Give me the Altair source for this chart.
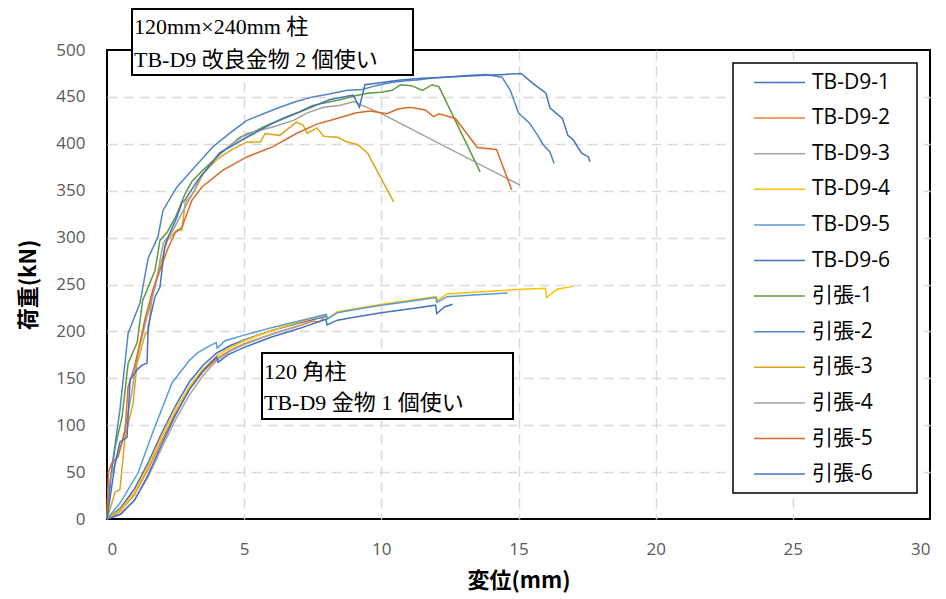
import altair as alt
import pandas as pd

# ---------------- data ----------------
series_names = ["TB-D9-1", "TB-D9-2", "TB-D9-3", "TB-D9-4", "TB-D9-5", "TB-D9-6",
                "引張-1", "引張-2", "引張-3", "引張-4", "引張-5", "引張-6"]
series_colors = ["#4472C4", "#ED7D31", "#A5A5A5", "#FFC000", "#5B9BD5", "#4472C4",
                 "#5E9B3C", "#4F86C6", "#DBA516", "#A0A0A0", "#DC6A28", "#4472C4"]

tb1_x = [0, 0.5, 1.0, 1.5, 2.0, 2.5, 3.0, 3.5, 4.0, 4.5, 5.0, 6.0, 7.0, 8.0]
tb1_y = [0, 12, 32, 60, 92, 121, 146, 164, 177, 185, 191, 201, 209, 216]

tb2_x = [0, 0.5, 1.0, 1.5, 2.0, 2.5, 3.0, 3.5, 4.0, 4.5, 5.0, 6.0, 7.0, 7.5, 7.7, 7.9]
tb2_y = [0, 9, 26, 53, 84, 113, 138, 157, 171, 180, 187, 197, 206, 211, 210, 214]

tb3_x = [0, 0.5, 1.0, 1.5, 2.0, 2.5, 3.0, 3.5, 4.0, 4.5, 5.0, 6.0, 7.0]
tb3_y = [0, 6, 20, 45, 76, 106, 132, 153, 169, 179, 186, 197, 206]

tb4_x = [0, 0.5, 1.0, 1.5, 2.0, 2.5, 3.0, 3.5, 4.0, 4.5, 5.0, 6.0, 7.0, 8.0, 8.05, 8.4,
         9.0, 10.0, 11.0, 12.0, 12.05, 12.4, 13.5, 14.6, 15.98, 16.03, 16.4, 17.0]
tb4_y = [0, 10, 28, 56, 88, 117, 141, 160, 174, 183, 190, 201, 210, 218, 214, 221,
         224, 229, 233, 237, 233, 240, 242, 244, 246, 236, 245, 248]

tb5_x = [0, 0.5, 1.13, 1.7, 2.37, 3.0, 3.3, 3.7, 3.98, 4.02, 4.3, 5.0, 6.0, 7.0, 7.98,
         8.02, 8.4, 9.0, 10.0, 11.0, 11.98, 12.02, 12.4, 13.5, 14.6]
tb5_y = [0, 18, 49, 95, 145, 169, 177, 184, 188, 182, 190, 196, 204, 211, 218,
         213, 220, 223, 228, 232, 236, 231, 237, 239, 241]

tb6_x = [0, 0.5, 1.0, 1.5, 2.0, 2.5, 3.0, 3.5, 4.0, 4.05, 4.4, 5.0, 6.0, 7.0, 7.98,
         8.02, 8.4, 9.0, 10.0, 11.0, 11.98, 12.02, 12.3, 12.6]
tb6_y = [0, 5, 20, 47, 80, 111, 138, 158, 173, 167, 175, 183, 194, 203, 213,
         207, 212, 215, 220, 224, 228, 219, 226, 229]

t1_x = [0, 0.1, 0.3, 0.55, 0.77, 1.1, 1.3, 1.75, 1.93, 2.2, 2.5, 2.85, 3.1, 3.5, 3.9,
        4.4, 4.85, 5.3, 5.7, 6.1, 6.55, 7.0, 7.5, 8.0, 8.5, 9.0, 9.5, 10.0, 10.4, 10.7,
        11.1, 11.5, 11.85, 12.1, 13.6]
t1_y = [0, 38, 77, 109, 166, 188, 233, 265, 297, 306, 322, 347, 360, 372, 383,
        396, 407, 412, 418, 423, 429, 434, 441, 444, 447, 451, 454, 455, 457, 463,
        462, 457, 463, 461, 370]

t2_x = [0, 0.18, 0.47, 0.77, 1.2, 1.5, 1.86, 2.04, 2.55, 3.1, 3.87, 4.5, 5.1, 5.7,
        6.3, 6.9, 7.5, 8.1, 8.75, 9.3, 9.8, 10.3, 10.8, 11.3, 11.8, 12.3, 12.8, 13.3,
        13.8, 14.4, 14.7, 15.0, 15.4, 15.7, 15.9, 16.15, 16.3]
t2_y = [0, 55, 116, 198, 230, 278, 301, 329, 354, 372, 397, 412, 425, 432,
        439, 445, 450, 453, 457, 458, 462, 465, 467, 468, 470, 471, 472, 473,
        474, 471, 457, 433, 422, 409, 399, 391, 379]

t3_x = [0, 0.3, 0.47, 0.66, 0.95, 1.1, 1.4, 1.5, 1.64, 1.93, 2.2, 2.55, 2.73, 2.85,
        3.2, 3.5, 4.0, 4.5, 5.1, 5.6, 5.76, 6.3, 6.9, 7.15, 7.3, 7.65, 7.9, 8.4, 8.75,
        9.15, 9.5, 10.45]
t3_y = [0, 29, 31, 88, 123, 166, 198, 198, 237, 269, 297, 308, 308, 337,
        350, 368, 383, 393, 402, 402, 411, 409, 423, 420, 411, 417, 408, 407, 402,
        399, 390, 338]

t4_x = [0, 0.04, 0.3, 0.58, 0.9, 1.1, 1.4, 1.75, 2.05, 2.37, 2.73, 3.2, 3.4, 4.1,
        5.1, 6.05, 6.8, 7.3, 7.9, 8.5, 9.0, 9.3, 9.95, 15.05]
t4_y = [0, 34, 60, 84, 134, 173, 209, 247, 294, 306, 326, 351, 365, 390,
        411, 418, 425, 433, 439, 441, 445, 441, 433, 356]

t5_x = [0, 0.05, 0.18, 0.4, 0.66, 0.77, 1.0, 1.2, 1.4, 1.7, 1.93, 2.2, 2.48, 2.73,
        3.1, 3.46, 4.23, 5.1, 6.05, 6.9, 7.65, 8.25, 9.1, 9.6, 10.2, 10.6, 11.05,
        11.6, 11.9, 12.1, 12.7, 13.5, 14.2, 14.75]
t5_y = [0, 50, 60, 66, 95, 141, 162, 188, 215, 247, 265, 287, 305, 311,
        340, 354, 372, 386, 397, 411, 421, 426, 433, 435, 432, 437, 439,
        436, 429, 432, 427, 396, 394, 351]

t6_x = [0, 0.3, 0.47, 0.73, 0.84, 1.09, 1.28, 1.46, 1.5, 1.75, 1.93, 2.1, 2.22, 2.55,
        2.73, 2.84, 3.28, 4.1, 5.1, 6.05, 7.04, 8.1, 8.97, 9.2, 9.4, 9.95, 10.7, 11.5,
        12.3, 13.0, 13.8, 14.5, 15.1, 15.5, 16.0, 16.15, 16.6, 16.8, 17.0, 17.3, 17.55,
        17.6]
t6_y = [0, 60, 82, 87, 148, 159, 164, 166, 205, 237, 247, 290, 300, 322,
        337, 340, 360, 390, 407, 422, 434, 447, 452, 439, 463, 465, 468, 470,
        471, 472, 473, 474, 475, 465, 454, 438, 427, 409, 404, 390, 386,
        381]

series_x = [tb1_x, tb2_x, tb3_x, tb4_x, tb5_x, tb6_x, t1_x, t2_x, t3_x, t4_x, t5_x, t6_x]
series_y = [tb1_y, tb2_y, tb3_y, tb4_y, tb5_y, tb6_y, t1_y, t2_y, t3_y, t4_y, t5_y, t6_y]

x_ticks = [0, 5, 10, 15, 20, 25, 30]
y_ticks = [0, 50, 100, 150, 200, 250, 300, 350, 400, 450, 500]
x_title = "変位(mm)"
y_title = "荷重(kN)"
note1 = ["120mm×240mm 柱", "TB-D9 改良金物 2 個使い"]
note2 = ["120 角柱", "TB-D9 金物 1 個使い"]

rows = []
for name, xs, ys in zip(series_names, series_x, series_y):
    for i, (xv, yv) in enumerate(zip(xs, ys)):
        rows.append({"series": name, "x": xv, "y": yv, "i": i})
df = pd.DataFrame(rows)

SANS = "Open Sans, Noto Sans CJK JP"
CJK = "Noto Sans CJK JP"
SERIF = "Liberation Serif, Noto Sans CJK JP"

W, H = 823, 469

lines = alt.Chart(df).mark_line(strokeWidth=1.5).encode(
    x=alt.X("x:Q", scale=alt.Scale(domain=[0, 30], nice=False),
            axis=alt.Axis(title=x_title, values=x_ticks,
                          titleX=W / 2, titleY=61, titleBaseline="middle",
                          labelPadding=22,
                          gridOpacity={"condition": {"test": "datum.value == 0 || datum.value == 30",
                                                     "value": 0}, "value": 1})),
    y=alt.Y("y:Q", scale=alt.Scale(domain=[0, 500], nice=False),
            axis=alt.Axis(title=y_title, values=y_ticks,
                          titleX=-79, titleY=H / 2, titleBaseline="middle",
                          titleAlign="center", labelPadding=22,
                          gridOpacity={"condition": {"test": "datum.value == 0 || datum.value == 500",
                                                     "value": 0}, "value": 1})),
    color=alt.Color("series:N",
                    scale=alt.Scale(domain=series_names, range=series_colors),
                    legend=alt.Legend(title=None, orient="none", legendX=646, legendY=20.5,
                                      direction="vertical", symbolType="stroke",
                                      symbolSize=2601, symbolStrokeWidth=1.5,
                                      symbolOffset=0, labelOffset=6,
                                      labelFont=SANS, labelFontSize=21, labelColor="black",
                                      clipHeight=24, rowPadding=11.6, padding=0)),
    order="i:Q",
)


def box(x1, y1, x2, y2, sw=2):
    return alt.Chart(pd.DataFrame({"k": [0]})).mark_rect(
        fill="white", stroke="black", strokeWidth=sw).encode(
        x=alt.value(x1), x2=alt.value(x2), y=alt.value(y1), y2=alt.value(y2))


def label(txt, x, y):
    return alt.Chart(pd.DataFrame({"t": [txt]})).mark_text(
        font=SERIF, fontSize=22, color="black", align="left", baseline="middle").encode(
        text="t:N", x=alt.value(x), y=alt.value(y))


chart = alt.layer(
    box(626, 13, 810, 443, 1.5),
    lines,
    box(25, -41, 306, 25), label(note1[0], 27, -23), label(note1[1], 27, 10),
    box(155, 303, 406, 369), label(note2[0], 157, 322), label(note2[1], 157, 353),
).properties(
    width=W, height=H,
    padding={"left": 107, "top": 50, "right": 16, "bottom": 80},
    autosize=alt.AutoSizeParams(type="none"),
).configure_view(
    stroke="black", strokeWidth=2
).configure_axis(
    grid=True, gridColor="#D9D9D9", gridDash=[10, 6], gridWidth=1.5,
    domain=False, ticks=False, tickSize=0,
    labelFont=SANS, labelFontSize=17, labelColor="#595959",
    titleFont=CJK, titleFontSize=22, titleFontWeight="bold", titleColor="black",
)

chart.save("out.html", embed_options={"renderer": "svg", "actions": False})
